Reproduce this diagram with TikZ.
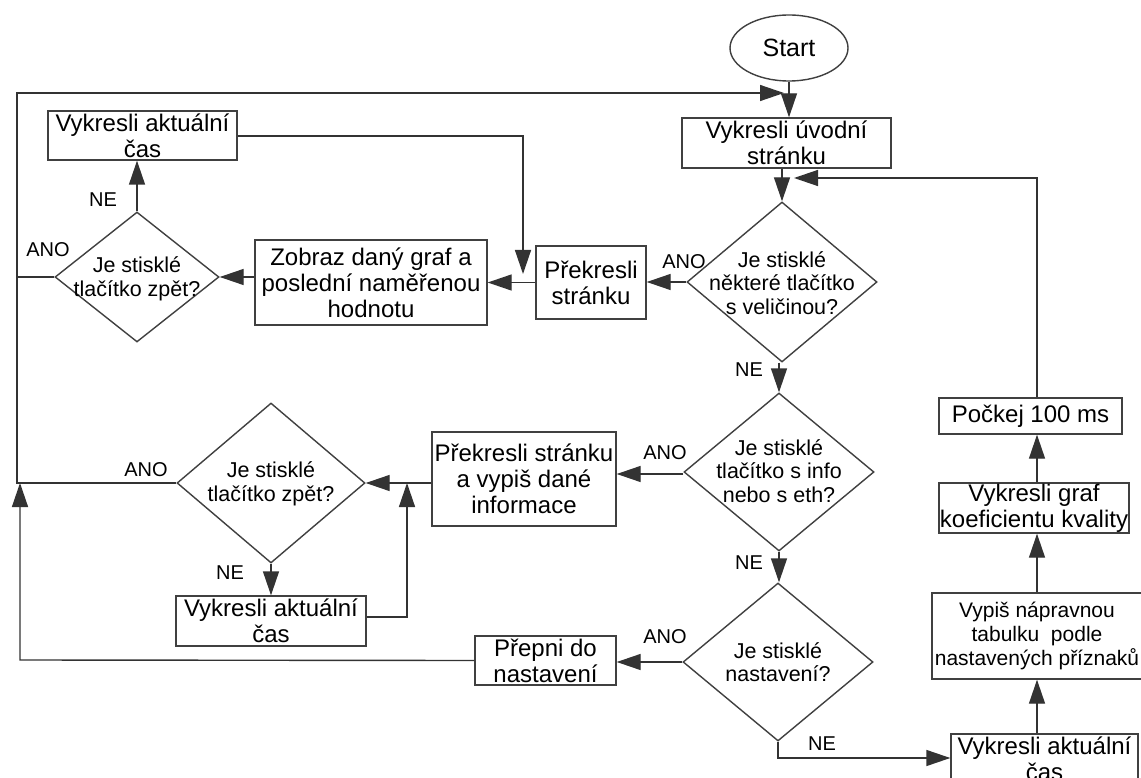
\documentclass[tikz,border=0pt]{standalone}
\usepackage{fontspec}
\setmainfont{Liberation Sans}
\usetikzlibrary{arrows.meta,shapes.geometric}
\tikzset{
  ln/.style={draw=black!80, line width=1.4pt},
  arr/.style={ln, -{Triangle[length=24pt,width=16pt]}},
  box/.style={draw=black!75, line width=1.4pt, fill=white, inner sep=0pt, align=center,
     font=\fontsize{24}{26}\selectfont},
  dia/.style={diamond, draw=black!75, line width=1.4pt, inner sep=0pt, aspect=1},
  dtext/.style={align=center, inner sep=0pt, font=\fontsize{21.5}{23.5}\selectfont},
  lbl/.style={inner sep=0pt, font=\fontsize{20}{22}\selectfont},
}
\begin{document}
\begin{tikzpicture}[x=1pt,y=-1pt]
\useasboundingbox[fill=white] (0,0) rectangle (1141,778);

% nodes
\node[ellipse, draw=black!75, line width=1.4pt, minimum width=118pt, minimum height=66pt, inner sep=0pt,
  font=\fontsize{25}{27}\selectfont] (start) at (789,48) {Start};
\node[box, minimum width=209pt, minimum height=50pt] (uvod) at (786.5,143) {Vykresli úvodní\\stránku};

\node[dia, minimum width=190pt, minimum height=160pt] (d1) at (782,282) {};
\node[dtext] (d1t) at (782,283) {Je stisklé\\některé tlačítko\\s veličinou?};

\node[box, minimum width=110pt, minimum height=73pt] (prek1) at (591,282.5) {Překresli\\stránku};
\node[box, minimum width=232pt, minimum height=85pt] (zobraz) at (371,282.5) {Zobraz daný graf a\\poslední naměřenou\\hodnotu};

\node[dia, minimum width=164pt, minimum height=130pt] (dz1) at (137,277) {};
\node[dtext] (dz1t) at (137,279) {Je stisklé\\tlačítko zpět?};

\node[box, minimum width=189pt, minimum height=49pt] (cas1) at (142.5,135.5) {Vykresli aktuální\\čas};

\node[dia, minimum width=190pt, minimum height=158pt] (d2) at (779,472) {};
\node[dtext] (d2t) at (779,471) {Je stisklé\\tlačítko s info\\nebo s eth?};

\node[box, minimum width=184pt, minimum height=94pt] (prek2) at (524,479) {Překresli stránku\\a vypiš dané\\informace};

\node[dia, minimum width=188pt, minimum height=160pt] (dz2) at (271,483) {};
\node[dtext] (dz2t) at (271,484) {Je stisklé\\tlačítko zpět?};

\node[box, minimum width=190pt, minimum height=50pt] (cas2) at (271,621) {Vykresli aktuální\\čas};

\node[dia, minimum width=190pt, minimum height=158pt] (d3) at (778,662) {};
\node[dtext] (d3t) at (778,662) {Je stisklé\\nastavení?};

\node[box, minimum width=141pt, minimum height=49pt] (prepni) at (545.5,660.5) {Přepni do\\nastavení};

\node[box, minimum width=187pt, minimum height=50pt] (cas3) at (1044.5,759) {Vykresli aktuální\\čas};
\node[box, minimum width=210pt, minimum height=86pt, font=\fontsize{21}{24}\selectfont] (vypis) at (1037,636) {Vypiš nápravnou\\tabulku\ \ podle\\nastavených příznaků};
\node[box, minimum width=190pt, minimum height=50pt] (graf) at (1034,508) {Vykresli graf\\koeficientu kvality};
\node[box, minimum width=183pt, minimum height=36pt] (pockej) at (1030.5,416) {Počkej 100 ms};

% coordinates
\coordinate (Ltop) at (17,93);
\coordinate (Lmid) at (17,483);
\coordinate (Ttip) at (784,93);
\coordinate (Bl) at (20,660);
\coordinate (Rtip) at (794,178);
\coordinate (Rc) at (1037,178);
\coordinate (Mx) at (523,136);
\coordinate (Mtip) at (523,274);
\coordinate (Vx) at (407,617);
\coordinate (Nb) at (778,758);

% connectors
\draw[arr] (start.south) -- (start.south |- uvod.north);
\draw[arr] (dz2.west) -- (Lmid) -- (Ltop) -- (Ttip);
\draw[ln] (dz1.west) -- (dz1.west -| Ltop);
\draw[arr] (prepni.west) -- (Bl) -- (Bl |- dz2.west);
\draw[arr] (uvod.south -| d1.north) -- (d1.north);
\draw[arr] (pockej.north -| Rc) -- (Rc) -- (Rtip);

\draw[arr] (d1.west) -- (d1.west -| prek1.east);
\draw[arr] (prek1.west) -- (prek1.west -| zobraz.east);
\draw[arr] (zobraz.west |- dz1.east) -- (dz1.east);
\draw[arr] (dz1.north) -- (dz1.north |- cas1.south);
\draw[arr] (cas1.east |- Mx) -- (Mx) -- (Mtip);

\draw[arr] (d1.south -| d2.north) -- (d2.north);
\draw[arr] (d2.west |- 0,474) -- (prek2.east |- 0,474);
\draw[arr] (prek2.west |- dz2.east) -- (dz2.east);
\draw[arr] (dz2.south) -- (dz2.south |- cas2.north);
\draw[arr] (cas2.east |- Vx) -- (Vx) -- (Vx |- dz2.east);

\draw[arr] (d2.south) -- (d2.south |- d3.north);
\draw[arr] (d3.west) -- (d3.west -| prepni.east);
\draw[arr] (d3.south) -- (Nb) -- (Nb -| cas3.west);

\draw[arr] (cas3.north -| Rc) -- (vypis.south -| Rc);
\draw[arr] (vypis.north -| Rc) -- (graf.south -| Rc);
\draw[arr] (graf.north -| Rc) -- (pockej.south -| Rc);

% labels
\node[lbl] (l1) at (103,200) {NE};
\node[lbl] (l2) at (48,250) {ANO};
\node[lbl] (l3) at (684,262) {ANO};
\node[lbl] (l4) at (749,370) {NE};
\node[lbl] (l5) at (665,453) {ANO};
\node[lbl] (l6) at (749,563) {NE};
\node[lbl] (l7) at (665,637) {ANO};
\node[lbl] (l8) at (822,744) {NE};
\node[lbl] (l9) at (146,470) {ANO};
\node[lbl] (l10) at (230,573) {NE};
\end{tikzpicture}
\end{document}
